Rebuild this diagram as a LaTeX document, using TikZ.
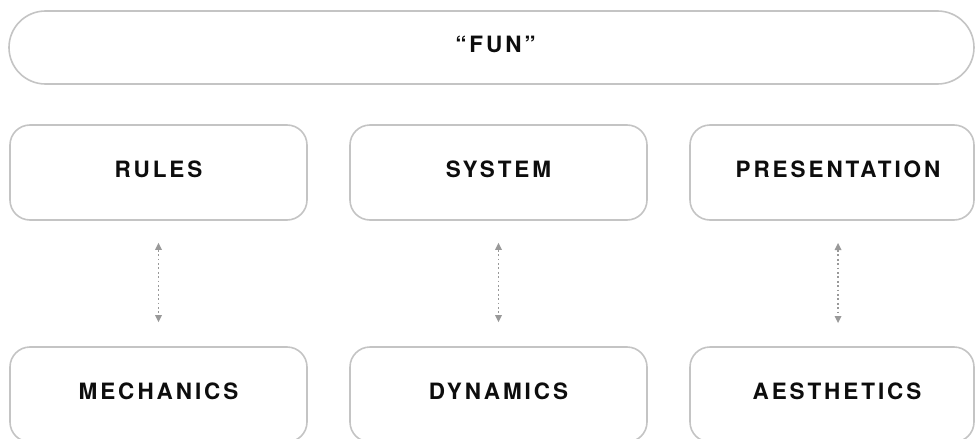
\documentclass[tikz,border=0pt]{standalone}
\usepackage{fontspec}
\setmainfont{TeX Gyre Heros}
\newfontfamily\labfont[LetterSpace=13]{TeX Gyre Heros}
\usetikzlibrary{arrows.meta}
\definecolor{boxline}{HTML}{C4C4C4}
\definecolor{arrgray}{HTML}{999999}
\tikzset{
  labtext/.style={font=\labfont\bfseries\fontsize{22.5}{26}\selectfont, text=black!95, text depth=6pt},
  box/.style={draw=boxline, line width=1.6pt, rounded corners=20pt, fill=white,
    minimum width=297pt, minimum height=95pt, inner sep=0pt, labtext},
  funbar/.style={box, rounded corners=36.5pt, minimum width=965pt, minimum height=73pt},
  dotarrow/.style={arrgray, line width=1.6pt, dash pattern=on 1.8pt off 2.6pt,
    {Triangle[width=7pt,length=7pt,line width=0pt]}-{Triangle[width=7pt,length=7pt,line width=0pt]}}
}
\begin{document}
\begin{tikzpicture}[x=1pt,y=-1pt]
\useasboundingbox (0,0) rectangle (975,439);
\node[funbar] (fun) at (491.5,47.5) {\hspace*{8pt}“FUN”};
\node[box] (rules) at (158.5,172.5) {RULES};
\node[box] (system) at (498.5,172.5) {SYSTEM};
\node[box, minimum width=284pt, label={[labtext, xshift=6pt]center:PRESENTATION}] (pres) at (832,172.5) {};
\node[box] (mech) at (158.5,394.5) {MECHANICS};
\node[box] (dyn) at (498.5,394.5) {DYNAMICS};
\node[box, minimum width=284pt, label={[labtext, xshift=5pt]center:AESTHETICS}] (aes) at (832,394.5) {};
\coordinate (p1) at (838,243);
\coordinate (p2) at (838,323);
\draw[dotarrow] ([yshift=-22pt]rules.south) -- ([yshift=24pt]mech.north);
\draw[dotarrow] ([yshift=-22pt]system.south) -- ([yshift=24pt]dyn.north);
\draw[dotarrow] (p1) -- (p2);
\end{tikzpicture}
\end{document}
